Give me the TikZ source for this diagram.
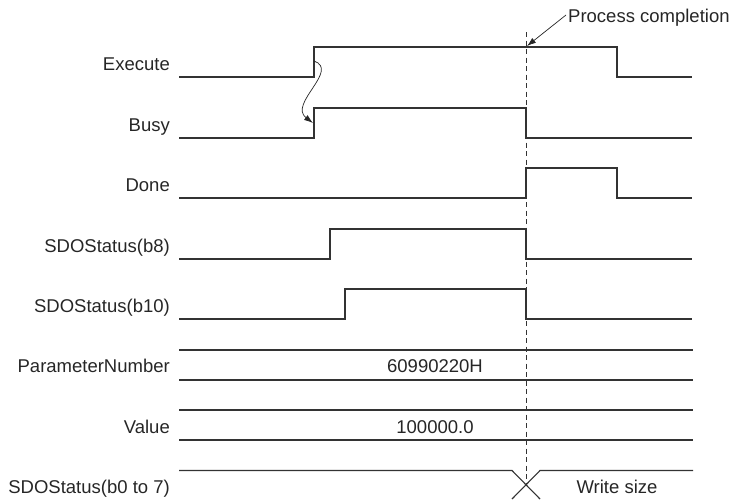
\documentclass[tikz,border=0pt]{standalone}
\usepackage{fontspec}
\setmainfont{Liberation Sans}
\usetikzlibrary{arrows.meta,positioning}

\begin{document}
\begin{tikzpicture}[x=1pt, y=-1pt,
    sig_line/.style={line width=1.1pt, draw=black!80, line join=miter},
    sig_label/.style={anchor=base east, inner sep=0pt, font=\fontsize{18.5}{22}\selectfont, text=black!85},
    bus_text/.style={anchor=base, inner sep=0pt, font=\fontsize{18.5}{22}\selectfont, text=black!85},
    done_mark/.style={line width=0.8pt, draw=black!80, dash pattern=on 5pt off 3.5pt},
    note_arrow/.style={line width=0.7pt, draw=black!85, -{Latex[length=9pt, width=6pt]}}
]
    \useasboundingbox (0,0) rectangle (731,499);

    % signal names
    \node[sig_label] (lblExec) at (170,70) {Execute};
    \node[sig_label] (lblBusy) at (170,131) {Busy};
    \node[sig_label] (lblDone) at (170,191) {Done};
    \node[sig_label] (lblB8) at (170,252) {SDOStatus(b8)};
    \node[sig_label] (lblB10) at (170,312) {SDOStatus(b10)};
    \node[sig_label] (lblParam) at (170,372) {ParameterNumber};
    \node[sig_label] (lblValue) at (170,433) {Value};
    \node[sig_label] (lblStat) at (170,493) {SDOStatus(b0 to 7)};

    % bit signals
    \draw[sig_line] (179,77) -- (314,77) -- (314,47) -- (617,47) -- (617,77) -- (692,77);
    \draw[sig_line] (179,138) -- (314,138) -- (314,108) -- (526,108) -- (526,138) -- (692,138);
    \draw[sig_line] (179,198) -- (526,198) -- (526,168) -- (617,168) -- (617,198) -- (692,198);
    \draw[sig_line] (179,259) -- (330,259) -- (330,229) -- (526,229) -- (526,259) -- (692,259);
    \draw[sig_line] (179,319) -- (345,319) -- (345,289) -- (526,289) -- (526,319) -- (692,319);

    % data signals
    \draw[sig_line] (179,350) -- (693,350) (179,380) -- (693,380);
    \node[bus_text] (valParam) at (435,372) {60990220H};
    \draw[sig_line] (179,410) -- (693,410) (179,440) -- (693,440);
    \node[bus_text] (valValue) at (435,433) {100000.0};
    \draw[sig_line] (179,470.5) -- (512,470.5) -- (540,499) (512,499) -- (540,470.5) -- (693,470.5);
    \node[bus_text] (valStat) at (617,493) {Write size};

    % completion timing
    \coordinate (mTop) at (526,32);
    \coordinate (mBot) at (526,484);
    \draw[done_mark] (mTop) -- (mBot);
    \node[anchor=west, inner sep=0pt, font=\fontsize{18.5}{22}\selectfont, text=black!85] (lblProc) at (568,18) {Process completion};
    \coordinate (procTip) at (527,46);
    \draw[note_arrow] (lblProc.west) ++(-2,-3) -- (procTip);

    % Execute triggers Busy
    \coordinate (execRise) at (314,61);
    \coordinate (busyRise) at (313,123);
    \draw[note_arrow] (execRise) .. controls (340,70) and (288,104) .. (busyRise);
\end{tikzpicture}
\end{document}
